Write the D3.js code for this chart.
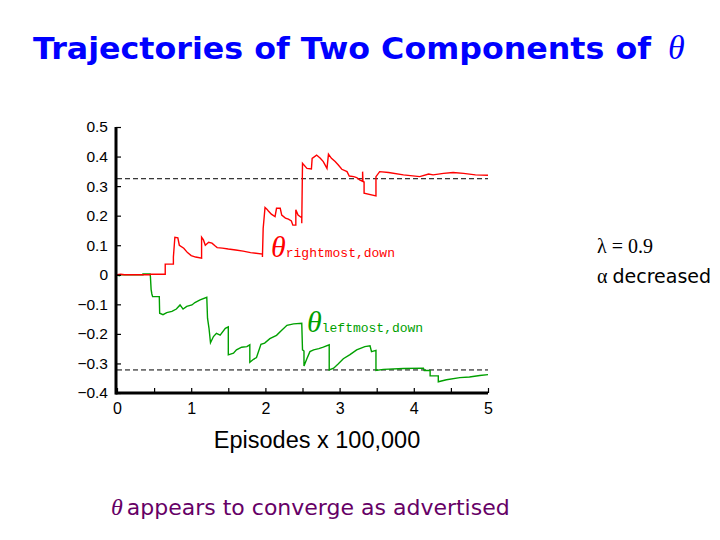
<!DOCTYPE html>
<html><head><meta charset="utf-8">
<script src="https://cdn.jsdelivr.net/npm/d3@7"></script>
<style>body{margin:0;background:#fff}svg{display:block}</style>
</head><body>
<svg id="c" width="720" height="540"></svg>
<script>
const xTicks = [0, 1, 2, 3, 4, 5];
const yTicks = [-0.4, -0.3, -0.2, -0.1, 0, 0.1, 0.2, 0.3, 0.4, 0.5];
const refLevels = [0.325, -0.322];
const redSeries = [[0,0],[0.05,0.002],[0.1,0],[0.445,0],[0.45,0.002],[0.65,0.002],[0.65,0.036],[0.76,0.036],[0.76,0.06],[0.78,0.127],[0.82,0.125],[0.84,0.1],[0.9,0.09],[0.95,0.075],[1.0,0.065],[1.06,0.06],[1.14,0.056],[1.14,0.127],[1.165,0.118],[1.19,0.1],[1.235,0.11],[1.28,0.107],[1.32,0.098],[1.35,0.092],[1.42,0.09],[1.5,0.087],[1.6,0.084],[1.7,0.08],[1.8,0.075],[1.96,0.07],[1.96,0.06],[1.97,0.157],[1.995,0.228],[2.02,0.222],[2.04,0.216],[2.08,0.205],[2.11,0.2],[2.13,0.197],[2.15,0.225],[2.2,0.225],[2.22,0.202],[2.27,0.192],[2.31,0.188],[2.35,0.182],[2.37,0.168],[2.41,0.168],[2.41,0.22],[2.44,0.202],[2.49,0.193],[2.49,0.174],[2.5,0.377],[2.56,0.36],[2.62,0.358],[2.63,0.394],[2.69,0.405],[2.74,0.394],[2.78,0.383],[2.83,0.36],[2.85,0.408],[2.89,0.394],[2.94,0.383],[2.98,0.372],[3.03,0.357],[3.1,0.349],[3.13,0.334],[3.19,0.332],[3.23,0.329],[3.27,0.321],[3.31,0.316],[3.31,0.349],[3.315,0.316],[3.33,0.314],[3.33,0.276],[3.49,0.267],[3.49,0.332],[3.54,0.349],[3.66,0.346],[3.86,0.338],[4.08,0.332],[4.2,0.341],[4.26,0.338],[4.4,0.343],[4.53,0.346],[4.67,0.343],[4.83,0.338],[5,0.337]];
const greenSeries = [[0,0],[0.03,-0.003],[0.05,0],[0.35,0],[0.35,0.003],[0.445,0.003],[0.45,-0.005],[0.46,-0.05],[0.47,-0.065],[0.48,-0.074],[0.57,-0.074],[0.575,-0.13],[0.62,-0.135],[0.67,-0.128],[0.74,-0.124],[0.8,-0.116],[0.85,-0.102],[0.89,-0.116],[0.94,-0.107],[1.01,-0.102],[1.05,-0.094],[1.12,-0.085],[1.21,-0.076],[1.22,-0.147],[1.24,-0.181],[1.26,-0.23],[1.3,-0.209],[1.34,-0.198],[1.39,-0.204],[1.46,-0.181],[1.5,-0.176],[1.5,-0.271],[1.57,-0.265],[1.61,-0.254],[1.68,-0.245],[1.75,-0.243],[1.79,-0.237],[1.79,-0.296],[1.84,-0.286],[1.88,-0.28],[1.94,-0.235],[1.99,-0.231],[2.06,-0.216],[2.15,-0.205],[2.22,-0.188],[2.29,-0.171],[2.38,-0.166],[2.49,-0.164],[2.5,-0.254],[2.52,-0.258],[2.52,-0.309],[2.56,-0.283],[2.6,-0.26],[2.65,-0.254],[2.72,-0.25],[2.78,-0.245],[2.86,-0.237],[2.86,-0.322],[2.92,-0.316],[2.98,-0.302],[3.05,-0.284],[3.14,-0.27],[3.23,-0.254],[3.34,-0.243],[3.41,-0.24],[3.43,-0.26],[3.49,-0.256],[3.49,-0.324],[3.59,-0.32],[3.86,-0.317],[4.13,-0.316],[4.14,-0.324],[4.22,-0.324],[4.22,-0.342],[4.33,-0.342],[4.33,-0.362],[4.44,-0.355],[4.62,-0.348],[4.75,-0.346],[4.89,-0.341],[5,-0.338]];

const svg = d3.select("#c");
const x = d3.scaleLinear().domain([0, 5]).range([117, 488]);
const y = d3.scaleLinear().domain([-0.4, 0.5]).range([393, 127]);
const sans = "'Liberation Sans', Arial, sans-serif";
const comic = "'Comic Sans MS', 'DejaVu Sans', sans-serif";
const serif = "'Liberation Serif', 'Times New Roman', serif";
const mono = "'Liberation Mono', 'Courier New', monospace";

// title
svg.append("text").attr("x", 33).attr("y", 59)
  .attr("font-family", comic).attr("font-weight", "bold").attr("font-size", 31)
  .attr("fill", "#0000ff").attr("textLength", 618).attr("lengthAdjust", "spacingAndGlyphs")
  .text("Trajectories of Two Components of");
svg.append("text").attr("x", 668).attr("y", 59).attr("font-family", serif).attr("font-style", "italic")
  .attr("font-size", 34).attr("fill", "#0000ff").text("θ");

// reference dashed lines
svg.selectAll("line.ref").data(refLevels).join("line").attr("class", "ref")
  .attr("x1", x(0)).attr("x2", x(5)).attr("y1", d => y(d)).attr("y2", d => y(d))
  .attr("stroke", "#000").attr("stroke-width", 1).attr("stroke-dasharray", "5,3");

// series
const line = d3.line().x(d => x(d[0])).y(d => y(d[1]));
svg.append("path").datum(greenSeries).attr("d", line).attr("fill", "none").attr("stroke", "#00a000").attr("stroke-width", 1.4);
svg.append("path").datum(redSeries).attr("d", line).attr("fill", "none").attr("stroke", "#ff0000").attr("stroke-width", 1.4);

// axes
const xAxis = d3.axisBottom(x).tickValues(d3.range(0, 5.01, 0.5)).tickSize(-5).tickSizeOuter(0)
  .tickFormat(d => xTicks.includes(d) ? d3.format("d")(d) : "");
const gx = svg.append("g").attr("transform", `translate(0,${y(-0.4)})`).call(xAxis);
gx.select(".domain").attr("stroke-width", 3).attr("d", `M${x(0)-1.5},0H${x(5)}`);
gx.selectAll(".tick line").attr("stroke-width", 1.2);
gx.selectAll(".tick text").attr("font-family", sans).attr("font-size", 16).attr("fill", "#000").attr("dy", "1.15em");

const yAxis = d3.axisLeft(y).tickValues(yTicks).tickSize(-5).tickSizeOuter(0)
  .tickFormat(d => d === 0 ? "0" : d3.format(".1f")(d));
const gy = svg.append("g").attr("transform", `translate(${x(0)-1},0)`).call(yAxis);
gy.select(".domain").attr("stroke-width", 3).attr("d", `M0,${y(0.5)}V${y(-0.4)+1.5}`);
gy.selectAll(".tick line").attr("stroke-width", 1.2);
gy.selectAll(".tick text").attr("font-family", sans).attr("font-size", 15.5).attr("fill", "#000").attr("x", -8);

// axis label
svg.append("text").attr("x", 317).attr("y", 448).attr("text-anchor", "middle")
  .attr("font-family", sans).attr("font-size", 23.5).text("Episodes x 100,000");

// series labels
const lab1 = svg.append("text").attr("x", 271).attr("y", 257).attr("fill", "#ff0000");
lab1.append("tspan").attr("font-family", serif).attr("font-style", "italic").attr("font-size", 30).text("θ");
lab1.append("tspan").attr("font-family", mono).attr("font-size", 13).text("rightmost,down");
const lab2 = svg.append("text").attr("x", 307).attr("y", 332).attr("fill", "#00a000");
lab2.append("tspan").attr("font-family", serif).attr("font-style", "italic").attr("font-size", 30).text("θ");
lab2.append("tspan").attr("font-family", mono).attr("font-size", 13).text("leftmost,down");

// side notes
svg.append("text").attr("x", 597).attr("y", 253).attr("font-family", serif).attr("font-size", 20).text("λ = 0.9");
const note = svg.append("text").attr("x", 597).attr("y", 283);
note.append("tspan").attr("font-family", serif).attr("font-size", 20).text("α ");
note.append("tspan").attr("font-family", comic).attr("font-size", 19).text("decreased");

// bottom caption
const cap = svg.append("text").attr("x", 111).attr("y", 515).attr("fill", "#660066");
cap.append("tspan").attr("font-family", serif).attr("font-style", "italic").attr("font-size", 24).text("θ");
cap.append("tspan").attr("font-family", comic).attr("font-size", 22).attr("dx", 4).text("appears to converge as advertised");
</script>
</body></html>
